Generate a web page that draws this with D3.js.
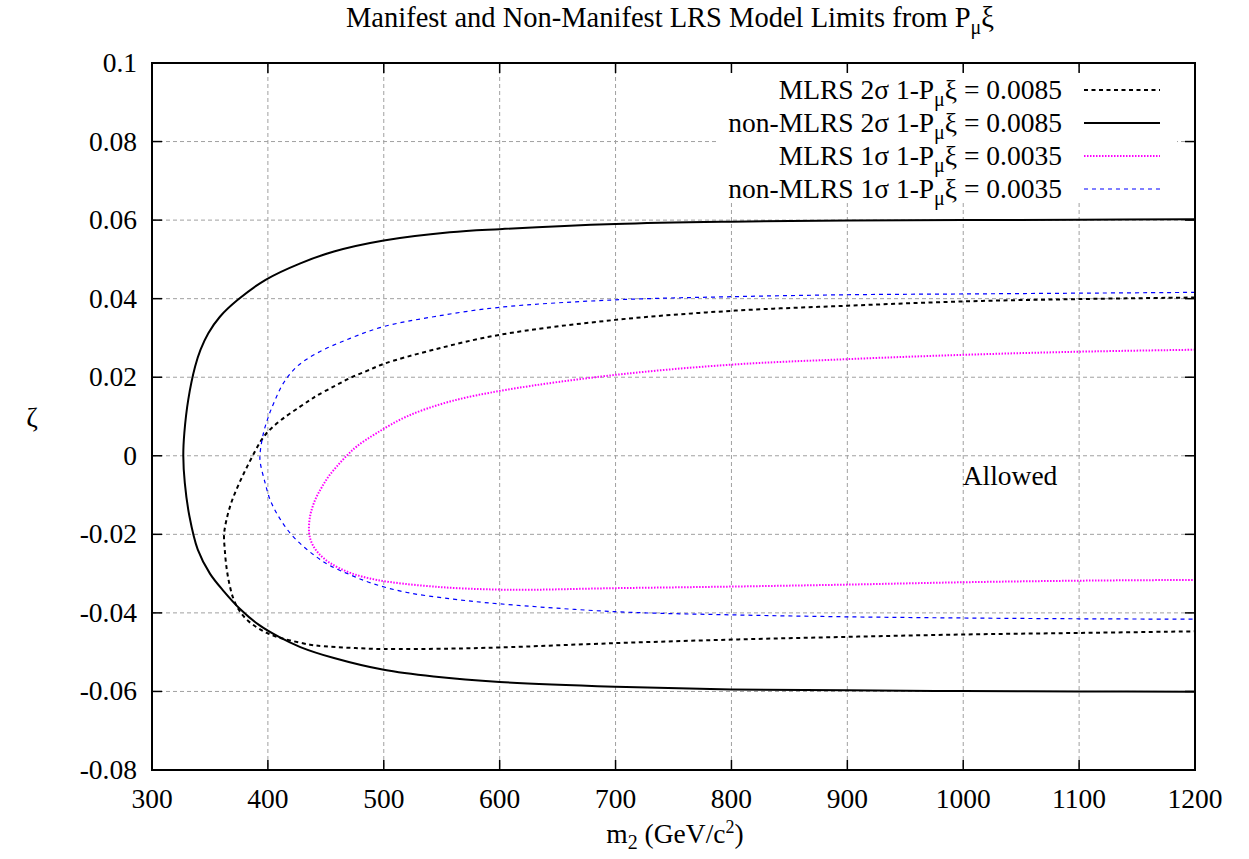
<!DOCTYPE html>
<html><head><meta charset="utf-8">
<script src="https://cdn.jsdelivr.net/npm/d3@7"></script>
<style>body{margin:0;background:#fff}svg{display:block}text{font-family:"Liberation Serif","Times New Roman",serif;fill:#000}</style>
</head><body><svg id="c" width="1249" height="859"></svg>
<script>
const xTicks=[300,400,500,600,700,800,900,1000,1100,1200];
const yTicks=[-0.08,-0.06,-0.04,-0.02,0,0.02,0.04,0.06,0.08,0.1];
const yTickLabels=["-0.08","-0.06","-0.04","-0.02","0","0.02","0.04","0.06","0.08","0.1"];

// non-MLRS 2σ (solid black): m2 and zeta
const nonMlrs2_m=[1200,1100,1000,900,800,700,600,557,500,457,428,398,374,358.6,348.6,341.9,337.2,331.3,327.9,327,328.3,332.3,339.5,350,362,376,392,410,428,457,500,543,600,700,800,900,1000,1100,1200];
const nonMlrs2_z=[0.0602,0.0601,0.0600,0.0599,0.0596,0.0590,0.0577,0.0569,0.0548,0.0520,0.0490,0.0448,0.0397,0.0354,0.0312,0.0270,0.0227,0.0143,0.0058,0,-0.0069,-0.0154,-0.0239,-0.0300,-0.0345,-0.0390,-0.0430,-0.0462,-0.0487,-0.0515,-0.0545,-0.0562,-0.0576,-0.0588,-0.0595,-0.0597,-0.0599,-0.0600,-0.0601];
// MLRS 2σ (black short dashes)
const mlrs2_m=[1200,1100,1000,900,800,700,600,543,500,485.4,471,456.6,442.2,436.4,427.8,415.4,404.8,399,394.7,391.2,382.2,375.4,369.3,365,362.2,362.8,364.2,366.6,370,374.5,381,390,399,407.6,419.2,436.4,448,471,500,557,600,700,800,900,1000,1100,1200];
const mlrs2_z=[0.0403,0.0399,0.0393,0.0382,0.0369,0.0346,0.0308,0.0270,0.0234,0.0216,0.0198,0.0176,0.0153,0.0142,0.0125,0.0100,0.0075,0.0058,0.0041,0.0024,-0.0027,-0.0069,-0.0112,-0.0154,-0.0200,-0.0239,-0.0282,-0.0324,-0.0362,-0.0390,-0.0415,-0.0436,-0.0451,-0.0461,-0.0470,-0.0481,-0.0485,-0.0489,-0.0492,-0.0491,-0.0488,-0.0477,-0.0468,-0.0461,-0.0455,-0.0451,-0.0447];
// MLRS 1σ (magenta dots)
const mlrs1_m=[1200,1100,1000,900,800,700,606,557,519.8,494,476.8,468,459.5,452.3,446.5,440.8,436.4,435.6,437.9,443.6,453.7,471,494,543,606,700,800,900,1000,1100,1200];
const mlrs1_z=[0.0270,0.0265,0.0257,0.0246,0.0232,0.0206,0.0168,0.0138,0.0100,0.0058,0.0024,0,-0.0027,-0.0053,-0.0080,-0.0112,-0.0154,-0.0197,-0.0222,-0.0248,-0.0273,-0.0298,-0.0316,-0.0333,-0.0341,-0.0337,-0.0333,-0.0328,-0.0322,-0.0318,-0.0316];
// non-MLRS 1σ (blue dashes)
const nonMlrs1_m=[1200,1100,1000,900,800,700,600,543,500,471,442.2,425,413.4,406.2,400.5,396.2,393.3,393.3,397.6,401.9,409.1,419.2,430.7,442.2,453.7,471,490,520,560,600,700,800,900,1000,1100,1200];
const nonMlrs1_z=[0.0416,0.0414,0.0412,0.0410,0.0405,0.0397,0.0378,0.0354,0.0329,0.0299,0.0261,0.0227,0.0185,0.0142,0.0100,0.0058,0.0007,-0.0015,-0.0069,-0.0112,-0.0154,-0.0197,-0.0231,-0.0258,-0.0280,-0.0303,-0.0325,-0.0348,-0.0365,-0.0377,-0.0397,-0.0405,-0.0410,-0.0413,-0.0415,-0.0416];

const series=[
 {name:"MLRS 2σ 1-P", sub:"μ", tail:"ξ = 0.0085", m:mlrs2_m, z:mlrs2_z, color:"#000", width:2, dash:"4,3.5"},
 {name:"non-MLRS 2σ 1-P", sub:"μ", tail:"ξ = 0.0085", m:nonMlrs2_m, z:nonMlrs2_z, color:"#000", width:2, dash:null},
 {name:"MLRS 1σ 1-P", sub:"μ", tail:"ξ = 0.0035", m:mlrs1_m, z:mlrs1_z, color:"#ff00ff", width:2, dash:"1.5,1.5"},
 {name:"non-MLRS 1σ 1-P", sub:"μ", tail:"ξ = 0.0035", m:nonMlrs1_m, z:nonMlrs1_z, color:"#0000ff", width:1.2, dash:"4,4"}
];

const L=152,R=1195,T=63,B=770;
const FS=27.5, SFS=20;
const svg=d3.select("#c");
const x=d3.scaleLinear().domain([300,1200]).range([L,R]);
const y=d3.scaleLinear().domain([-0.08,0.1]).range([B,T]);

// grid
const g=svg.append("g");
g.selectAll("line.gx").data(xTicks.slice(1,-1)).join("line").attr("x1",d=>x(d)).attr("x2",d=>x(d)).attr("y1",T).attr("y2",B)
 .attr("stroke","#a0a0a0").attr("stroke-width",1).attr("stroke-dasharray","4,3");
g.selectAll("line.gy").data(yTicks.slice(1,-1)).join("line").attr("y1",d=>y(d)).attr("y2",d=>y(d)).attr("x1",L).attr("x2",R)
 .attr("stroke","#a0a0a0").attr("stroke-width",1).attr("stroke-dasharray","4,3");

// curves
const line=d3.line().x(d=>x(d[0])).y(d=>y(d[1])).curve(d3.curveCatmullRom.alpha(0.5));
[1,0,3,2].forEach(i=>{const s=series[i];
 svg.append("path").datum(s.m.map((v,j)=>[v,s.z[j]])).attr("d",line).attr("fill","none")
  .attr("stroke",s.color).attr("stroke-width",s.width).attr("stroke-dasharray",s.dash);
});

// legend box (opaque)
svg.append("rect").attr("x",716).attr("y",72).attr("width",461).attr("height",131).attr("fill","#fff");
const lg=svg.append("g").attr("font-size",FS);
series.forEach((s,i)=>{
 const yy=90+i*33;
 const t=lg.append("text").attr("x",1062).attr("y",yy+9).attr("text-anchor","end");
 t.append("tspan").text(s.name);
 t.append("tspan").attr("font-size",SFS).attr("dy",7).text(s.sub);
 t.append("tspan").attr("dy",-7).text(s.tail);
 lg.append("line").attr("x1",1084).attr("x2",1160).attr("y1",yy).attr("y2",yy)
  .attr("stroke",s.color).attr("stroke-width",s.width).attr("stroke-dasharray",s.dash);
});

// axes with inward mirrored ticks
const axG=svg.append("g");
const tl=10;
xTicks.forEach(v=>{
 axG.append("line").attr("x1",x(v)).attr("x2",x(v)).attr("y1",B).attr("y2",B-tl).attr("stroke","#000").attr("stroke-width",1.5);
 axG.append("line").attr("x1",x(v)).attr("x2",x(v)).attr("y1",T).attr("y2",T+tl).attr("stroke","#000").attr("stroke-width",1.5);
});
yTicks.forEach(v=>{
 axG.append("line").attr("y1",y(v)).attr("y2",y(v)).attr("x1",L).attr("x2",L+tl).attr("stroke","#000").attr("stroke-width",1.5);
 axG.append("line").attr("y1",y(v)).attr("y2",y(v)).attr("x1",R).attr("x2",R-tl).attr("stroke","#000").attr("stroke-width",1.5);
});
axG.append("rect").attr("x",L).attr("y",T).attr("width",R-L).attr("height",B-T).attr("fill","none").attr("stroke","#000").attr("stroke-width",2);

svg.append("g").attr("font-size",FS).selectAll("text").data(xTicks).join("text")
 .attr("x",d=>x(d)).attr("y",808).attr("text-anchor","middle").text(d=>d);
svg.append("g").attr("font-size",FS).selectAll("text").data(yTicks).join("text")
 .attr("x",137).attr("y",d=>y(d)+9).attr("text-anchor","end").text((d,i)=>yTickLabels[i]);

// title
const tt=svg.append("text").attr("x",670).attr("y",27).attr("text-anchor","middle").attr("font-size",28.5);
tt.append("tspan").text("Manifest and Non-Manifest LRS Model Limits from P");
tt.append("tspan").attr("font-size",SFS).attr("dy",7).text("μ");
tt.append("tspan").attr("dy",-7).text("ξ");

// axis labels
const xl=svg.append("text").attr("x",675).attr("y",843).attr("text-anchor","middle").attr("font-size",FS);
xl.append("tspan").text("m");
xl.append("tspan").attr("font-size",SFS).attr("dy",6).text("2");
xl.append("tspan").attr("dy",-6).text(" (GeV/c");
xl.append("tspan").attr("font-size",18).attr("dy",-10).text("2");
xl.append("tspan").attr("dy",10).text(")");
svg.append("text").attr("x",32).attr("y",427).attr("text-anchor","middle").attr("font-size",28).text("ζ");

svg.append("text").attr("x",1010).attr("y",485).attr("text-anchor","middle").attr("font-size",FS).text("Allowed");
</script></body></html>
